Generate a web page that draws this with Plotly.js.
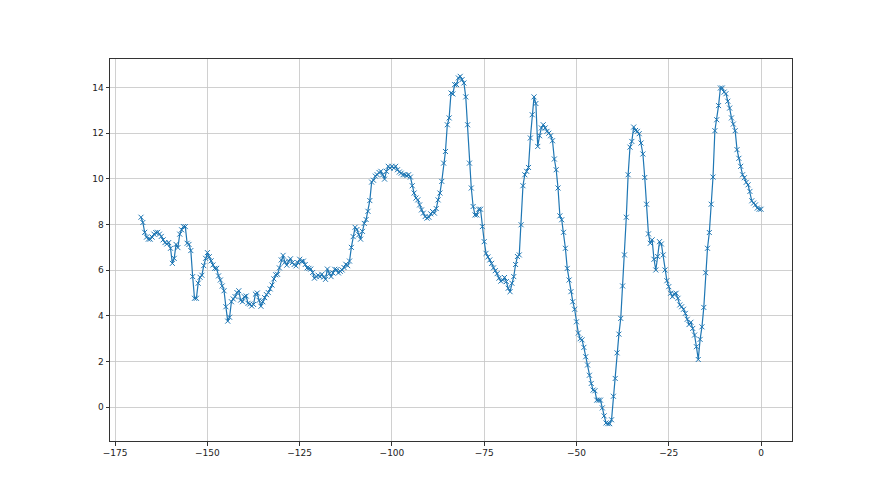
<!DOCTYPE html>
<html>
<head>
<meta charset="utf-8">
<script src="https://cdn.plot.ly/plotly-3.0.1.min.js"></script>
<style>
  html, body { margin: 0; padding: 0; background: #ffffff; }
  #chart { width: 880px; height: 495px; }
</style>
</head>
<body>
<div id="chart"></div>
<script>
// Sample positions: first x value and spacing between samples
const xStart = -168;
const xStep = 0.5;

// Series values, x = -168 ... 0 step 0.5
const values = [
  // -168 .. -138.5
  8.32, 8.09, 7.66, 7.45, 7.36, 7.36, 7.45, 7.58, 7.65, 7.66,
  7.58, 7.48, 7.33, 7.21, 7.15, 7.21, 6.96, 6.30, 6.52, 7.13,
  6.99, 7.58, 7.77, 7.91, 7.91, 7.18, 7.13, 6.86, 5.72, 4.77,
  4.77, 5.43, 5.69, 5.78, 6.20, 6.52, 6.77, 6.59, 6.41, 6.23,
  6.08, 6.08, 5.75, 5.57, 5.31, 5.10, 4.40, 3.77, 3.94, 4.62,
  4.74, 4.84, 5.02, 5.10, 4.69, 4.62, 4.84, 4.87, 4.55, 4.52,
  // -138 .. -111.5
  4.43, 4.50, 4.95, 5.00, 4.68, 4.42, 4.62, 4.80, 4.93, 5.02,
  5.18, 5.35, 5.62, 5.80, 5.82, 6.10, 6.45, 6.65, 6.35, 6.22,
  6.40, 6.50, 6.33, 6.25, 6.19, 6.33, 6.48, 6.38, 6.40, 6.25,
  6.10, 6.08, 6.05, 5.90, 5.65, 5.72, 5.78, 5.72, 5.82, 5.70,
  5.60, 6.05, 5.85, 5.72, 5.88, 6.04, 6.02, 5.88, 5.95, 6.01,
  6.12, 6.26, 6.20, 6.40,
  // -111 .. -88.5
  7.00, 7.47, 7.88, 7.78, 7.55, 7.36, 7.70, 8.05, 8.22, 8.58,
  9.05, 9.86, 9.94, 10.12, 10.18, 10.28, 10.33, 10.18, 9.99, 10.33,
  10.55, 10.47, 10.55, 10.47, 10.55, 10.40, 10.30, 10.25, 10.18, 10.18,
  10.14, 10.18, 10.08, 9.70, 9.38, 9.16, 9.08, 8.86, 8.64, 8.50,
  8.35, 8.28, 8.32, 8.47, 8.57, 8.50,
  // -88 .. -68
  8.70, 9.08, 9.38, 9.89, 10.69, 11.20, 12.37, 12.67, 13.76, 13.72,
  14.13, 14.13, 14.42, 14.49, 14.35, 14.20, 13.59, 12.37, 10.69, 9.60,
  8.79, 8.42, 8.42, 8.67, 8.67, 7.91, 7.25, 6.74, 6.58, 6.45,
  6.30, 6.10, 5.98, 5.85, 5.65, 5.52, 5.57, 5.68, 5.50, 5.21,
  5.06,
  // -67.5 .. -55.5
  5.43, 5.72, 6.25, 6.60, 6.67, 7.99, 9.70, 10.18, 10.33, 10.50,
  11.79, 12.81, 13.59, 13.30, 11.42, 11.89, 12.23, 12.37, 12.23, 12.08,
  12.00, 11.89, 11.67, 10.87, 10.40,
  // -55 .. -40.5
  9.60, 8.38, 8.21, 7.66, 6.96, 6.08, 5.57, 5.06, 4.62, 4.29,
  3.74, 3.25, 3.00, 2.95, 2.62, 2.21, 1.85, 1.40, 1.04, 0.75,
  0.72, 0.31, 0.31, 0.31, -0.03, -0.38, -0.69, -0.72, -0.72, -0.55,
  // -40 .. -20
  0.48, 1.26, 2.38, 3.20, 3.89, 5.31, 6.67, 8.32, 10.18, 11.39,
  11.64, 12.27, 12.12, 12.08, 11.98, 11.57, 11.09, 10.06, 8.89, 7.59,
  7.18, 7.33, 6.48, 6.01, 6.60, 7.25, 7.15, 6.67, 6.01, 5.54,
  5.28, 4.99, 4.84, 4.96, 4.99, 4.77, 4.48, 4.40, 4.29, 4.11,
  3.85,
  // -19.5 .. 0
  3.62, 3.72, 3.45, 3.16, 2.65, 2.09, 2.97, 3.52, 4.37, 5.89,
  6.96, 7.65, 8.89, 10.08, 12.11, 12.59, 13.21, 13.98, 13.98, 13.80,
  13.73, 13.40, 13.10, 12.67, 12.40, 12.11, 11.28, 10.90, 10.55, 10.18,
  10.05, 9.85, 9.74, 9.45, 9.04, 8.94, 8.86, 8.72, 8.67, 8.67
];

// Tick values / labels
const xTicks = [-175, -150, -125, -100, -75, -50, -25, 0];
const yTicks = [0, 2, 4, 6, 8, 10, 12, 14];

const trace = {
  type: 'scatter',
  mode: 'lines+markers',
  x0: xStart,
  dx: xStep,
  y: values,
  line: { color: '#1f77b4', width: 1.2 },
  marker: {
    symbol: 'x-thin',
    size: 5,
    color: '#1f77b4',
    line: { color: '#1f77b4', width: 1 }
  },
  hoverinfo: 'x+y',
  showlegend: false
};

const axisCommon = {
  showline: true,
  mirror: true,
  linecolor: '#333333',
  linewidth: 1,
  ticks: 'outside',
  ticklen: 3.5,
  tickwidth: 1,
  tickcolor: '#333333',
  showgrid: true,
  gridcolor: '#c4c4c4',
  gridwidth: 0.8,
  zeroline: false,
  tickfont: { family: 'DejaVu Sans, sans-serif', size: 9, color: '#222222' }
};

const layout = {
  width: 880,
  height: 495,
  margin: { l: 110, r: 88, t: 59, b: 54, pad: 0 },
  paper_bgcolor: '#ffffff',
  plot_bgcolor: '#ffffff',
  xaxis: Object.assign({}, axisCommon, {
    range: [-176.4, 8.4],
    tickmode: 'array',
    tickvals: xTicks,
    ticktext: xTicks.map(v => String(v).replace('-', '\u2212'))
  }),
  yaxis: Object.assign({}, axisCommon, {
    range: [-1.48, 15.25],
    tickmode: 'array',
    tickvals: yTicks,
    ticktext: yTicks.map(String)
  })
};

Plotly.newPlot('chart', [trace], layout, { displayModeBar: false, staticPlot: true });
</script>
</body>
</html>
